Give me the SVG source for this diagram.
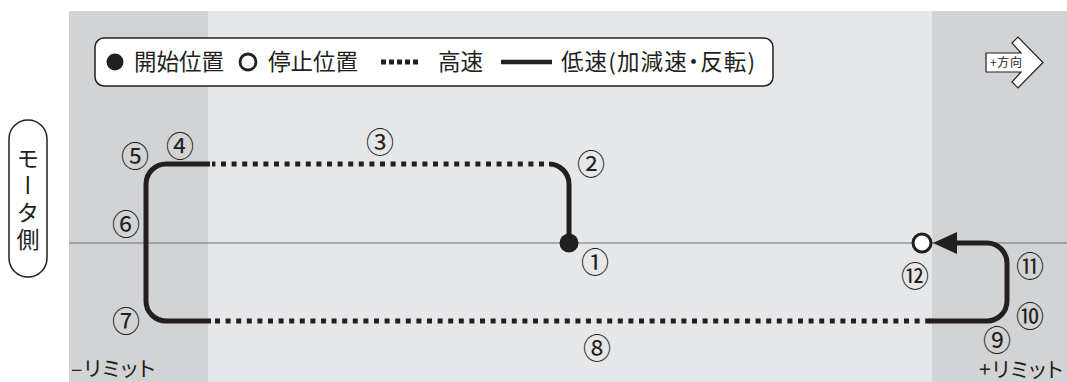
<svg xmlns="http://www.w3.org/2000/svg" width="1067" height="382" viewBox="0 0 1067 382">
<style>
text{font-family:"Noto Sans CJK JP","Noto Sans",sans-serif;fill:#231f20}
.lg{font-size:22.5px}
.num{font-size:28px;text-anchor:middle}
.lim{font-size:21px;font-feature-settings:"palt"}
.solid{fill:none;stroke:#231f20;stroke-width:5;stroke-linejoin:round}
.dot{fill:none;stroke:#231f20;stroke-width:5;stroke-dasharray:5 5.6}
</style>
<rect width="1067" height="382" fill="#ffffff"/>
<g id="background">
<rect x="69" y="11" width="998" height="371" fill="#e6e7e8"/>
<rect x="69" y="11" width="139" height="371" fill="#d1d3d4"/>
<rect x="932" y="11" width="135" height="371" fill="#d1d3d4"/>
<line x1="69" y1="243" x2="1067" y2="243" stroke="#6d6e71" stroke-width="1.2"/>
</g>
<g id="legend">
<rect x="95" y="38" width="678" height="48" rx="9" fill="#fff" stroke="#231f20" stroke-width="1.5"/>
<circle cx="115" cy="62" r="8.5" fill="#231f20"/>
<text class="lg" x="134" y="70">開始位置</text>
<circle cx="248" cy="62" r="8" fill="#fff" stroke="#231f20" stroke-width="2.8"/>
<text class="lg" x="268" y="70">停止位置</text>
<line x1="381" y1="62" x2="418" y2="62" stroke="#231f20" stroke-width="5" stroke-dasharray="5 3"/>
<text class="lg" x="438" y="70">高速</text>
<line x1="501" y1="62" x2="552" y2="62" stroke="#231f20" stroke-width="4.5"/>
<text class="lg" x="561" y="70" textLength="194" lengthAdjust="spacing" style="font-feature-settings:'palt'">低速(加減速・反転)</text>
</g>
<g id="direction-arrow">
<polygon points="986,53 1021,53 1012,43 1018,37 1043,62.5 1018,88 1012,82 1021,72 986,72" fill="#fff" stroke="#231f20" stroke-width="1.2" stroke-linejoin="miter"/>
<text x="990" y="67" font-size="12" textLength="32" lengthAdjust="spacing">+方向</text>
</g>
<g id="motor-side">
<rect x="9" y="120" width="38" height="157" rx="19" fill="#fff" stroke="#231f20" stroke-width="1.5"/>
<text x="28" y="147" font-size="23" style="writing-mode:vertical-rl;letter-spacing:4px">モータ側</text>
</g>
<g id="connectors">
<path class="solid" d="M569,243 V184 A20,20 0 0 0 549,164"/>
<path class="dot" d="M544,164 H212"/>
<path class="solid" d="M210,164 H166 A20,20 0 0 0 146,184 V301 A20,20 0 0 0 166,321 H211"/>
<path class="dot" d="M215,321 H930"/>
<path class="solid" d="M929,321 H987 A20,20 0 0 0 1007,301 V263 A20,20 0 0 0 987,243 H955"/>
<polygon points="933,243 957,232 957,254" fill="#231f20"/>
</g>
<g id="start-position">
<circle cx="569" cy="243" r="9.5" fill="#231f20"/>
</g>
<g id="stop-position">
<circle cx="922" cy="243" r="9" fill="#fff" stroke="#231f20" stroke-width="3"/>
</g>
<g id="labels">
<text class="num" x="595" y="273">①</text>
<text class="num" x="591" y="175">②</text>
<text class="num" x="380" y="153">③</text>
<text class="num" x="180" y="157">④</text>
<text class="num" x="135" y="167">⑤</text>
<text class="num" x="126" y="235">⑥</text>
<text class="num" x="126" y="332">⑦</text>
<text class="num" x="597" y="359">⑧</text>
<text class="num" x="997" y="351">⑨</text>
<text class="num" x="1030" y="327">⑩</text>
<text class="num" x="1030" y="277">⑪</text>
<text class="num" x="915" y="287">⑫</text>
<text class="lim" x="71" y="376" textLength="84" lengthAdjust="spacing">–リミット</text>
<text class="lim" x="979" y="377" textLength="84" lengthAdjust="spacing">+リミット</text>
</g>
</svg>
